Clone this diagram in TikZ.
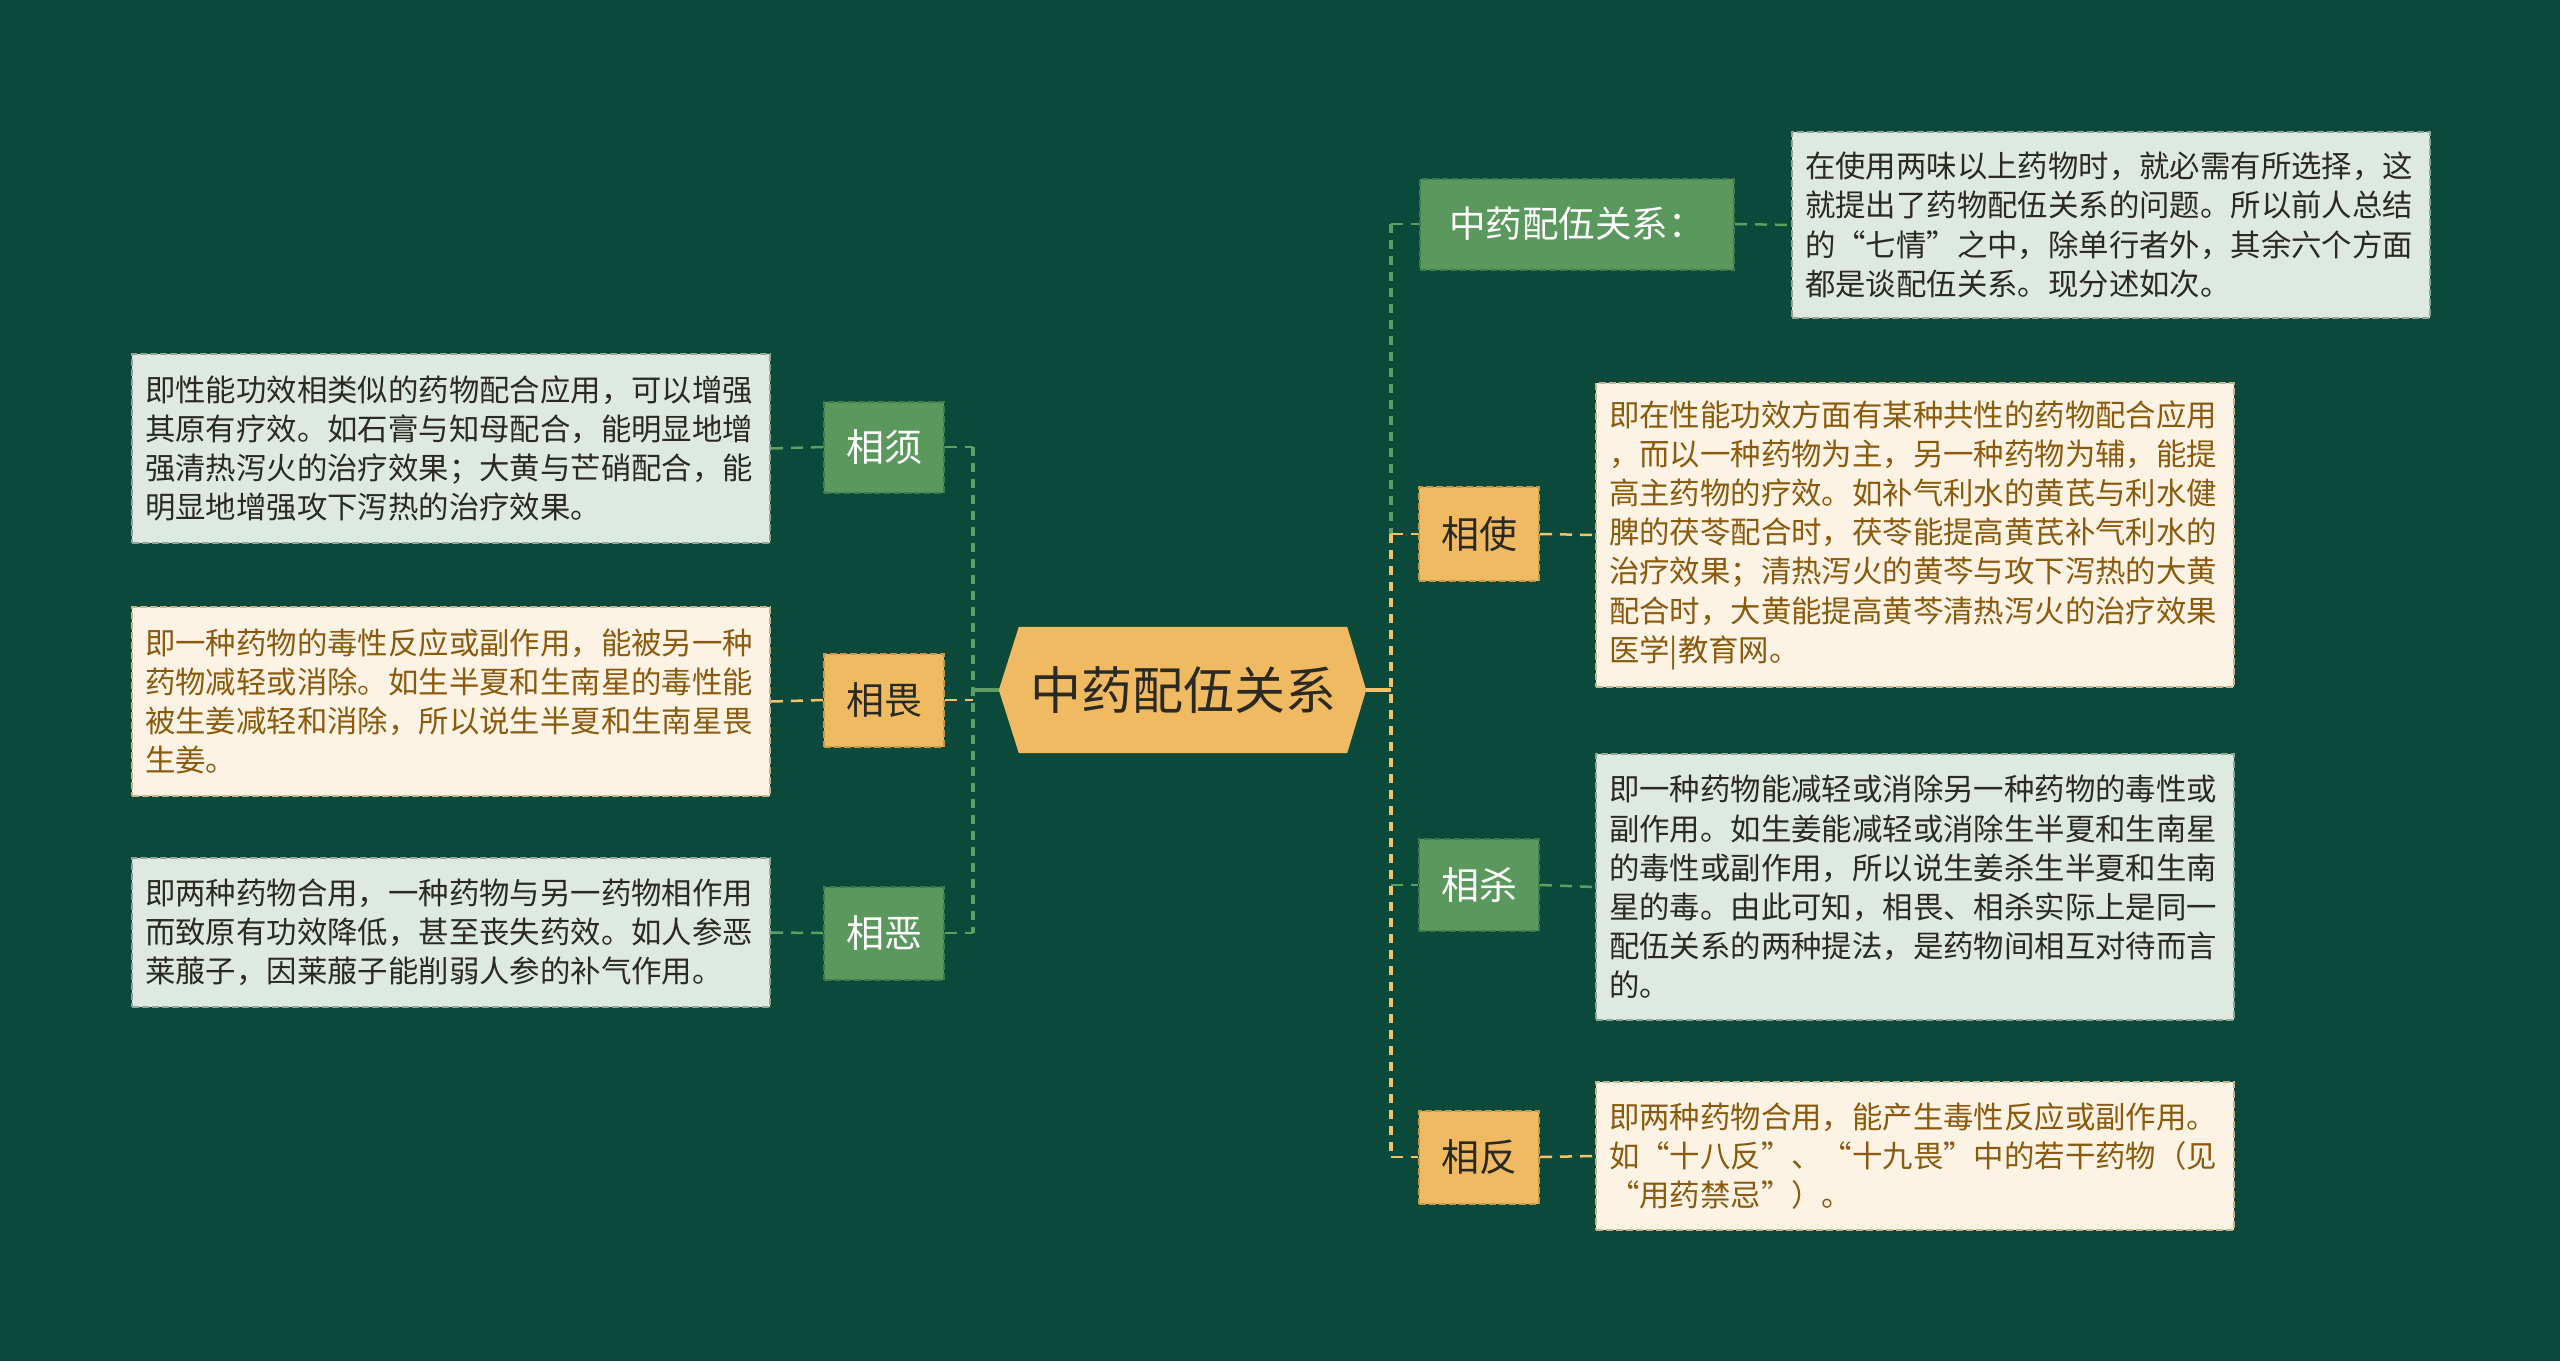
\documentclass[tikz,border=0pt]{standalone}
\usepackage{fontspec}
\setmainfont{Noto Sans CJK SC}
\usetikzlibrary{calc}
\definecolor{bgc}{HTML}{0B4A3A}
\definecolor{gfill}{HTML}{5A985D}
\definecolor{gdraw}{HTML}{3E7B4C}
\definecolor{yfill}{HTML}{EFBA62}
\definecolor{ydraw}{HTML}{C9974A}
\definecolor{glight}{HTML}{DEE9E1}
\definecolor{glightd}{HTML}{8EA597}
\definecolor{cream}{HTML}{FDF3E4}
\definecolor{creamd}{HTML}{C9B38C}
\definecolor{brown}{HTML}{8A5A0D}
\definecolor{darktxt}{HTML}{2A2A22}
\definecolor{gline}{HTML}{5E9E63}
\definecolor{yline}{HTML}{F0C36C}
\tikzset{
  lbl/.style={rectangle, inner sep=0pt, font=\fontsize{38}{44}\selectfont, minimum width=120pt, minimum height=93pt, line width=2pt, dash pattern=on 7pt off 3pt},
  glbl/.style={lbl, fill=gfill, draw=gdraw, text=white},
  ylbl/.style={lbl, fill=yfill, draw=ydraw, text=darktxt},
  txtbox/.style={rectangle, anchor=north west, inner xsep=13pt, inner ysep=0pt, text width=612pt, align=left, minimum width=638pt, font=\fontsize{30.4}{39.2}\selectfont, line width=2pt, dash pattern=on 7pt off 3pt},
  gbox/.style={txtbox, fill=glight, draw=glightd, text=darktxt},
  ybox/.style={txtbox, fill=cream, draw=creamd, text=brown},
  gcon/.style={draw=gline, line width=2.5pt, dash pattern=on 12pt off 8pt},
  ycon/.style={draw=yline, line width=2.5pt, dash pattern=on 12pt off 8pt},
  gvert/.style={draw=gline, line width=3.5pt, dash pattern=on 9pt off 7pt},
  yvert/.style={draw=yline, line width=3.5pt, dash pattern=on 9pt off 7pt},
}
\begin{document}
\begin{tikzpicture}[x=1pt,y=-1pt]
\fill[bgc] (0,0) rectangle (2560,1361);
\useasboundingbox (0,0) rectangle (2560,1361);

% center node
\node[rectangle, minimum width=328pt, minimum height=126pt, inner sep=0pt, font=\fontsize{51}{56}\selectfont, text=darktxt] (c) at (1183,690) {};
\coordinate (cl) at ($(c.west)+(-20,0)$);
\coordinate (cr) at ($(c.east)+(19,0)$);
\fill[yfill] (c.north west) -- (c.north east) -- (cr) -- (c.south east) -- (c.south west) -- (cl) -- cycle;
\node[font=\fontsize{51}{56}\selectfont, text=darktxt] at (c.center) {中药配伍关系};

% junction coordinates
\coordinate (lv) at (973,690);
\coordinate (lv1) at (973,447);
\coordinate (lv2) at (973,700);
\coordinate (lv3) at (973,933);
\coordinate (rv) at (1391,690);
\coordinate (rv0) at (1391,224);
\coordinate (rv1) at (1391,534);
\coordinate (rv2) at (1391,885);
\coordinate (rv3) at (1391,1157);

% right labels
\node[glbl, minimum width=314pt, minimum height=91pt, font=\fontsize{36.5}{42}\selectfont] (t0) at (1577,224) {中药配伍关系：};
\node[ylbl, minimum height=94pt] (r1) at (1479,534) {相使};
\node[glbl, minimum height=92pt] (r2) at (1479,885) {相杀};
\node[ylbl] (r3) at (1479,1157) {相反};

% right boxes
\node[gbox, minimum height=186pt] (b0) at (1791,131) {在使用两味以上药物时，就必需有所选择，这\\就提出了药物配伍关系的问题。所以前人总结\\的“七情”之中，除单行者外，其余六个方面\\都是谈配伍关系。现分述如次。};
\node[ybox, minimum height=304pt] (b1) at (1595,382) {即在性能功效方面有某种共性的药物配合应用\\，而以一种药物为主，另一种药物为辅，能提\\高主药物的疗效。如补气利水的黄芪与利水健\\脾的茯苓配合时，茯苓能提高黄芪补气利水的\\治疗效果；清热泻火的黄芩与攻下泻热的大黄\\配合时，大黄能提高黄芩清热泻火的治疗效果\\医学|教育网。};
\node[gbox, minimum height=266pt] (b2) at (1595,753) {即一种药物能减轻或消除另一种药物的毒性或\\副作用。如生姜能减轻或消除生半夏和生南星\\的毒性或副作用，所以说生姜杀生半夏和生南\\星的毒。由此可知，相畏、相杀实际上是同一\\配伍关系的两种提法，是药物间相互对待而言\\的。};
\node[ybox, minimum height=148pt] (b3) at (1595,1081) {即两种药物合用，能产生毒性反应或副作用。\\如“十八反”、“十九畏”中的若干药物（见\\“用药禁忌”）。};

% left labels
\node[glbl, minimum height=91pt] (l1) at (884,447) {相须};
\node[ylbl] (l2) at (884,700) {相畏};
\node[glbl] (l3) at (884,933) {相恶};

% left boxes
\node[gbox, minimum height=189pt] (L1) at (131,353) {即性能功效相类似的药物配合应用，可以增强\\其原有疗效。如石膏与知母配合，能明显地增\\强清热泻火的治疗效果；大黄与芒硝配合，能\\明显地增强攻下泻热的治疗效果。};
\node[ybox, minimum height=189pt] (L2) at (131,606) {即一种药物的毒性反应或副作用，能被另一种\\药物减轻或消除。如生半夏和生南星的毒性能\\被生姜减轻和消除，所以说生半夏和生南星畏\\生姜。};
\node[gbox, minimum height=149pt] (L3) at (131,857) {即两种药物合用，一种药物与另一药物相作用\\而致原有功效降低，甚至丧失药效。如人参恶\\莱菔子，因莱菔子能削弱人参的补气作用。};

% connectors: center stubs
\draw[gline, line width=3.5pt] (cl) -- (lv);
\draw[yline, line width=3.5pt] (cr) -- (rv);

% left side
\draw[gvert] (lv1) -- (lv3);
\draw[gcon] (l1.east) -- (lv1);
\draw[ycon] (l2.east) -- (lv2);
\draw[gcon] (l3.east) -- (lv3);
\draw[gcon] (L1.east) -- (l1.west);
\draw[ycon] (L2.east) -- (l2.west);
\draw[gcon] (L3.east) -- (l3.west);

% right side
\draw[gvert] (rv0) -- (rv1);
\draw[yvert] (rv1) -- (rv3);
\draw[gcon] (rv0) -- (t0.west);
\draw[ycon] (rv1) -- (r1.west);
\draw[gcon] (rv2) -- (r2.west);
\draw[ycon] (rv3) -- (r3.west);
\draw[gcon] (t0.east) -- (b0.west);
\draw[ycon] (r1.east) -- (b1.west);
\draw[gcon] (r2.east) -- (b2.west);
\draw[ycon] (r3.east) -- (b3.west);
\end{tikzpicture}
\end{document}
